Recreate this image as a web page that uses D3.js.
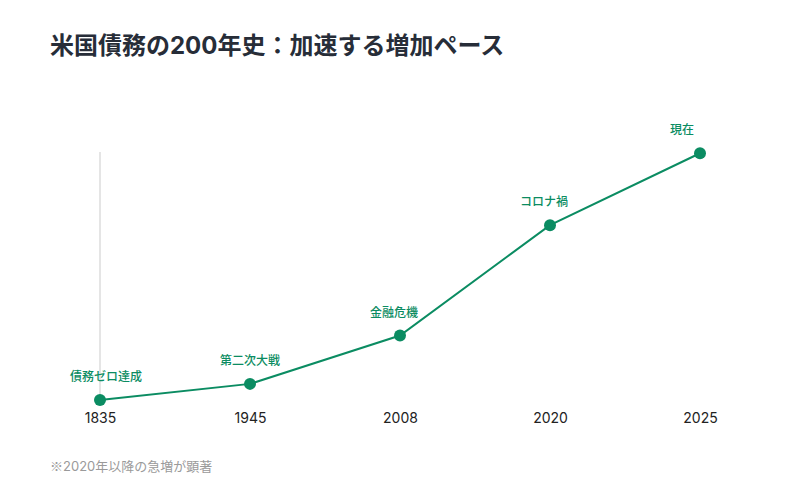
<!DOCTYPE html>
<html>
<head>
<meta charset="utf-8">
<script src="https://d3js.org/d3.v7.min.js"></script>
<style>
  body {margin: 0; background: #fff;}
  svg {font-family: Inter, "Noto Sans CJK JP", sans-serif;}
</style>
</head>
<body>
<svg id="chart" width="800" height="500"></svg>
<script>
// years on the x axis, debt index (relative, 2025 = ~100), event labels
var years = ["1835", "1945", "2008", "2020", "2025"];
var debtIndex = [0, 6.5, 26, 70.5, 99.5];
var events = ["債務ゼロ達成", "第二次大戦", "金融危機", "コロナ禍", "現在"];

var svg = d3.select("#chart");
var green = "#0b8c62";
// small horizontal nudges so labels sit like the original
var labelNudge = [6, 0, -6, -6, -18];

svg.append("text")
  .attr("x", 50).attr("y", 54)
  .attr("font-size", 24).attr("font-weight", "bold")
  .attr("fill", "#272d38")
  .text("米国債務の200年史：加速する増加ペース");

var x = d3.scalePoint().domain(years).range([100, 700]);
var y = d3.scaleLinear().domain([0, 100]).range([400, 152]);

// y axis line only
svg.append("line")
  .attr("x1", 100).attr("x2", 100)
  .attr("y1", y(100)).attr("y2", y(0))
  .attr("stroke", "#dddddd").attr("stroke-width", 1.5);

var xAxis = svg.append("g")
  .attr("transform", "translate(0,400)")
  .call(d3.axisBottom(x).tickSize(0).tickPadding(13));
xAxis.select(".domain").remove();
xAxis.selectAll("text")
  .attr("font-size", 14).attr("fill", "#222")
  .attr("font-family", "Inter, sans-serif");

var pts = years.map((yr, i) => ({year: yr, v: debtIndex[i], label: events[i], dx: labelNudge[i]}));

svg.append("path")
  .datum(pts)
  .attr("fill", "none")
  .attr("stroke", green)
  .attr("stroke-width", 2)
  .attr("d", d3.line().x(d => x(d.year)).y(d => y(d.v)));

svg.selectAll("circle.pt")
  .data(pts).enter().append("circle")
  .attr("class", "pt")
  .attr("cx", d => x(d.year)).attr("cy", d => y(d.v))
  .attr("r", 6).attr("fill", green);

svg.selectAll("text.ev")
  .data(pts).enter().append("text")
  .attr("class", "ev")
  .attr("x", d => x(d.year) + d.dx).attr("y", d => y(d.v) - 19)
  .attr("text-anchor", "middle")
  .attr("font-size", 12).attr("font-weight", 500)
  .attr("fill", green)
  .text(d => d.label);

var note = svg.append("text")
  .attr("x", 50).attr("y", 471)
  .attr("font-size", 13).attr("fill", "#9a9a9a");
note.append("tspan").attr("font-family", "'Noto Sans CJK JP'").text("※");
note.append("tspan").text("2020年以降の急増が顕著");
</script>
</body>
</html>
